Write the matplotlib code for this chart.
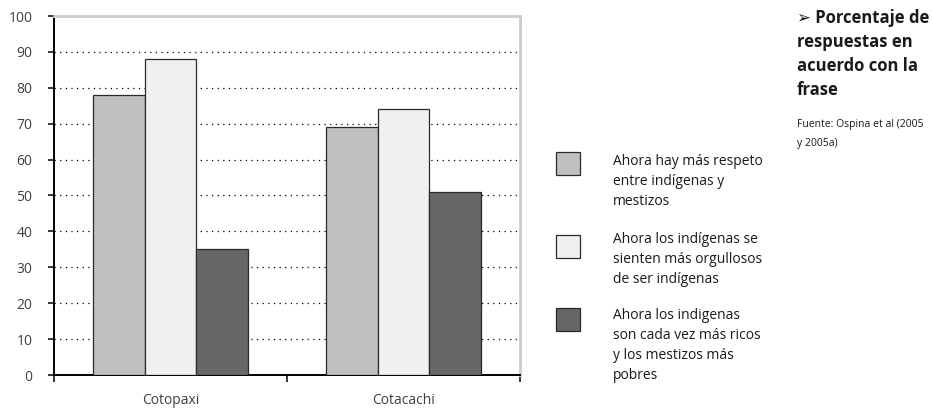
'''
Porcentaje de respuestas en acuerdo con la frase (Cotopaxi / Cotacachi).
'''

import matplotlib.pyplot as plt
from matplotlib.patches import Rectangle
from matplotlib.ticker import FixedLocator, NullFormatter, FixedFormatter

# Data
places = ['Cotopaxi', 'Cotacachi']
respeto = [78, 69]
orgullo = [88, 74]
ricos = [35, 51]
series_labels = [
    'Ahora hay más respeto\nentre indígenas y\nmestizos',
    'Ahora los indígenas se\nsienten más orgullosos\nde ser indígenas',
    'Ahora los indigenas\nson cada vez más ricos\ny los mestizos más\npobres',
]
y_ticks = list(range(0, 101, 10))
title_text = '➢ Porcentaje de\nrespuestas en\nacuerdo con la\nfrase'
source_text = 'Fuente: Ospina et al (2005\ny 2005a)'

colors = ['#c0c0c0', '#f0f0f0', '#676767']
text_color = '#404040'


def main() -> None:
    plt.rcParams['font.family'] = ['Open Sans', 'DejaVu Sans']

    fig = plt.figure(figsize=(9.33, 4.11), dpi=100)
    ax = fig.add_axes([54 / 933, 1 - 375 / 411, 466 / 933, 359 / 411])

    # Bars
    width = 0.223
    series = [respeto, orgullo, ricos]
    for i, (vals, col) in enumerate(zip(series, colors)):
        xs = [k + 0.5 + (i - 1) * width for k in range(len(places))]
        ax.bar(xs, vals, width=width, color=col, edgecolor='#2a2a2a',
               linewidth=0.9, zorder=3)

    ax.set_xlim(0, len(places))
    ax.set_ylim(0, 100)

    # Y axis
    ax.set_yticks(y_ticks)
    ax.tick_params(axis='y', direction='out', length=4.5, width=1.1,
                   color='black', labelsize=10, labelcolor=text_color, pad=11)
    for y in y_ticks[1:-1]:
        ax.axhline(y, color='black', linestyle=(0, (1, 3.5)), linewidth=0.9,
                   zorder=1)

    # X axis: ticks at category borders, labels in the middle
    ax.xaxis.set_major_locator(FixedLocator(range(len(places) + 1)))
    ax.xaxis.set_major_formatter(NullFormatter())
    ax.xaxis.set_minor_locator(FixedLocator([k + 0.5 for k in range(len(places))]))
    ax.xaxis.set_minor_formatter(FixedFormatter(places))
    ax.tick_params(axis='x', which='major', direction='out', length=5,
                   width=1.1, color='black')
    ax.tick_params(axis='x', which='minor', length=0, labelsize=10,
                   labelcolor=text_color, pad=13)

    # Spines
    ax.spines['left'].set_color('black')
    ax.spines['left'].set_linewidth(1.4)
    ax.spines['bottom'].set_color('black')
    ax.spines['bottom'].set_linewidth(1.4)
    for side in ('top', 'right'):
        ax.spines[side].set_color('#cccccc')
        ax.spines[side].set_linewidth(2)

    # Legend drawn by hand
    box_tops = [152, 235, 308]
    text_tops = [154, 232, 308]
    for top, ttop, col, lab in zip(box_tops, text_tops, colors, series_labels):
        fig.patches.append(Rectangle((556 / 933, 1 - (top + 23) / 411),
                                     24 / 933, 23 / 411,
                                     transform=fig.transFigure,
                                     facecolor=col, edgecolor='#2a2a2a',
                                     linewidth=0.9))
        fig.text(613 / 933, 1 - ttop / 411, lab, ha='left', va='top',
                 fontsize=10, color='#1a1a1a', linespacing=1.44)

    # Title and source
    fig.text(797 / 933, 1 - 9 / 411, title_text, ha='left', va='top',
             fontsize=12, fontweight='bold', color='#1a1a1a',
             linespacing=1.42)
    fig.text(797 / 933, 1 - 119 / 411, source_text, ha='left', va='top',
             fontsize=7.5, color='#1a1a1a', linespacing=2.05)

    fig.savefig('out.png', dpi=100)
    plt.close(fig)


if __name__ == '__main__':
    main()
